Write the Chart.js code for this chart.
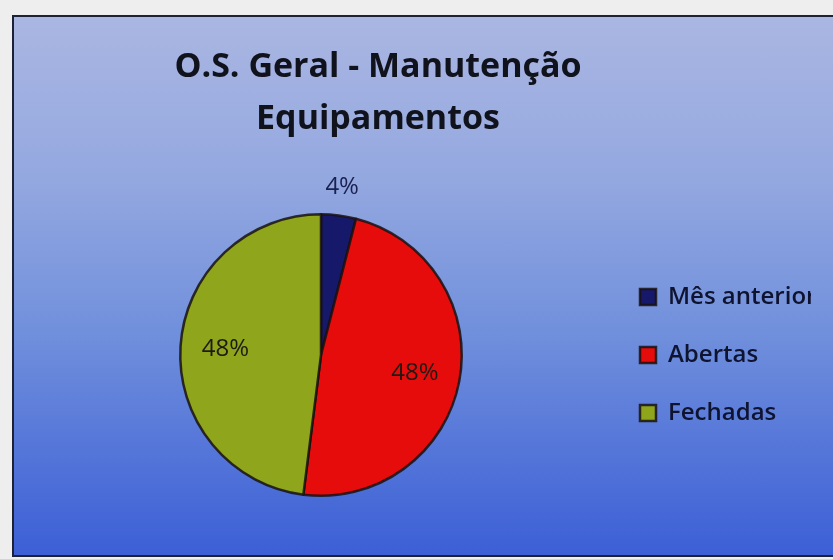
<!DOCTYPE html>
<html>
<head>
<meta charset="utf-8">
<script src="https://cdn.jsdelivr.net/npm/chart.js@4.4.1/dist/chart.umd.min.js"></script>
<style>
  html, body { margin: 0; padding: 0; background: #eeeeee; width: 833px; height: 559px; overflow: hidden; }
  #panel {
    position: absolute; left: 12px; top: 15px; width: 840px; height: 538px;
    border-top: 2px solid #1c2233; border-left: 2px solid #1c2233; border-bottom: 2px solid #1c2233;
    background: linear-gradient(to bottom, #aab6e2 0%, #94a8e0 30%, #7190dc 58%, #3c5fd6 100%);
  }
  #clip { position: absolute; left: 0; top: 0; width: 797px; height: 538px; overflow: hidden; }
  #box { position: absolute; left: 0; top: 0; width: 820px; height: 538px; }
</style>
</head>
<body>
<div id="panel"><div id="clip"><div id="box"><canvas id="c"></canvas></div></div></div>
<script>
const categories = ['Mês anterior', 'Abertas', 'Fechadas'];
const percentages = [4, 48, 48];
const sliceColors = ['#16196a', '#e60c0c', '#8ea51c'];
const titleLines = ['O.S. Geral - Manutenção', 'Equipamentos'];

// rótulos de porcentagem em cada fatia
const pctLabels = {
  id: 'pctLabels',
  afterDatasetsDraw(chart) {
    const ctx = chart.ctx;
    const meta = chart.getDatasetMeta(0);
    ctx.save();
    ctx.font = '24px "Open Sans"';
    ctx.textAlign = 'center';
    ctx.textBaseline = 'middle';
    meta.data.forEach((arc, i) => {
      const {x, y, startAngle, endAngle, outerRadius} = arc.getProps(['x', 'y', 'startAngle', 'endAngle', 'outerRadius'], true);
      const mid = (startAngle + endAngle) / 2;
      const r = percentages[i] < 10 ? outerRadius * 1.2 : outerRadius * 0.68;
      ctx.fillStyle = i === 0 ? '#1a2050' : '#1e1a14';
      ctx.fillText(percentages[i] + '%', x + Math.cos(mid) * r, y + Math.sin(mid) * r);
    });
    ctx.restore();
  }
};

// a legenda fica estreita no layout (para o título ficar no lugar), mas o texto pode passar da caixa
const legendOverflow = {
  id: 'legendOverflow',
  afterLayout(chart) {
    if (chart.legend) chart.legend.right = chart.width;
  }
};

new Chart(document.getElementById('c'), {
  type: 'pie',
  data: {
    labels: categories,
    datasets: [{
      data: percentages,
      backgroundColor: sliceColors,
      borderColor: 'rgba(25,18,18,0.85)',
      borderWidth: 2.5
    }]
  },
  options: {
    animation: false,
    responsive: true,
    maintainAspectRatio: false,
    layout: { padding: { left: 22, right: 114, top: 0, bottom: 58 } },
    plugins: {
      title: {
        display: true,
        text: titleLines,
        color: '#10121c',
        font: { family: 'Open Sans', size: 34, weight: 'bold', lineHeight: 1.53 },
        padding: { top: 24, bottom: 68 }
      },
      legend: {
        position: 'right',
        fullSize: false,
        maxWidth: 114,
        labels: {
          color: '#0e1430',
          font: { family: 'Open Sans', size: 24, weight: '600' },
          boxWidth: 16,
          boxHeight: 16,
          padding: 34
        }
      },
      tooltip: { enabled: false }
    }
  },
  plugins: [pctLabels, legendOverflow]
});
</script>
</body>
</html>
